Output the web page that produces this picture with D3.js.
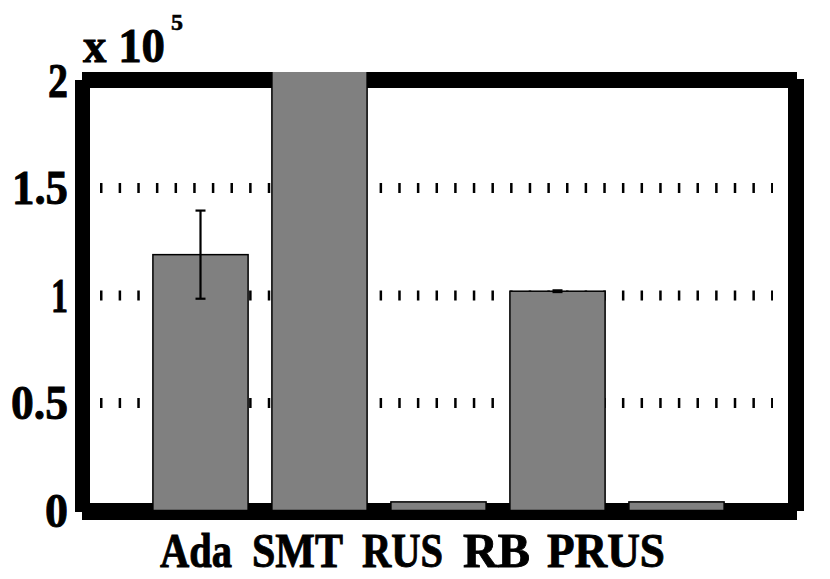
<!DOCTYPE html>
<html>
<head>
<meta charset="utf-8">
<script src="https://cdn.jsdelivr.net/npm/d3@7"></script>
<style>
  html, body { margin: 0; padding: 0; background: #fff; }
  svg { display: block; }
  text { font-family: "Liberation Serif", "Times New Roman", serif; font-weight: bold; fill: #000; stroke: #000; stroke-width: 0.9; }
</style>
</head>
<body>
<svg id="chart" width="830" height="579"></svg>
<script>
// ---- data ----
const categories = ["Ada", "SMT", "RUS", "RB", "PRUS"];
const values = [1.19, 2.05, 0.04, 1.02, 0.04];      // x 10^5
const errors = [0.205, 0, 0, 0.004, 0];
const yTicks = [0, 0.5, 1, 1.5, 2];
const yTickLabels = ["0", "0.5", "1", "1.5", "2"];
const gridValues = [0.5, 1, 1.5];
// label layout as placed in the original figure (px)
const labelLeft = [160, 252, 362, 463, 547];
const labelWidth = [72, 91, 81, 67, 118];
const tickLabelWidth = [23, 57, 17, 56, 20];

const svg = d3.select("#chart");
const x = d3.scaleLinear().domain([0, 6]).range([81.5, 795.5]);
const y = d3.scaleLinear().domain([0, 2]).range([510.5, 80.5]);
const barW = x(0.8) - x(0);

// grid (dotted, rendered as short vertical ticks)
svg.append("g").selectAll("line").data(gridValues).join("line")
  .attr("x1", 100).attr("x2", 773)
  .attr("y1", d => y(d)).attr("y2", d => y(d))
  .attr("stroke", "#000").attr("stroke-width", 10)
  .attr("stroke-dasharray", "2.5 16.14");

// frame
const frame = svg.append("g").attr("fill", "#000");
frame.append("rect").attr("x", 75).attr("y", 80).attr("width", 15).attr("height", 432); // left
frame.append("rect").attr("x", 82).attr("y", 503).attr("width", 715).attr("height", 17); // bottom
frame.append("rect").attr("x", 82).attr("y", 72).attr("width", 715).attr("height", 16); // top
frame.append("rect").attr("x", 788).attr("y", 79).attr("width", 16).attr("height", 432); // right

// bars (clipped)
svg.append("clipPath").attr("id", "clip").append("rect")
  .attr("x", 75).attr("y", 72).attr("width", 730).attr("height", 448);
svg.append("g").attr("clip-path", "url(#clip)")
  .selectAll("rect").data(values).join("rect")
  .attr("x", (d, i) => x(i + 1) - barW / 2)
  .attr("y", d => y(d))
  .attr("width", barW)
  .attr("height", d => y(0) - y(d))
  .attr("fill", "#808080")
  .attr("stroke", "#000").attr("stroke-width", 1.5);

// error bars
const eb = svg.append("g").attr("stroke", "#000").attr("stroke-width", 2.2);
values.forEach((v, i) => {
  if (!errors[i]) return;
  const cx = x(i + 1);
  eb.append("line").attr("x1", cx).attr("x2", cx).attr("y1", y(v + errors[i])).attr("y2", y(v - errors[i]));
  [v + errors[i], v - errors[i]].forEach(t => {
    eb.append("line").attr("x1", cx - 5).attr("x2", cx + 5).attr("y1", y(t)).attr("y2", y(t));
  });
});

// y tick labels
svg.append("g").selectAll("text").data(yTicks).join("text")
  .attr("x", (d, i) => 68 - tickLabelWidth[i]).attr("y", d => y(d) + 16)
  .attr("font-size", 48)
  .attr("textLength", (d, i) => tickLabelWidth[i])
  .attr("lengthAdjust", "spacingAndGlyphs")
  .text((d, i) => yTickLabels[i]);

// exponent label
svg.append("text").attr("x", 83).attr("y", 62).attr("font-size", 48)
  .attr("textLength", 82).attr("lengthAdjust", "spacingAndGlyphs")
  .text("x 10");
svg.append("text").attr("x", 171).attr("y", 30).attr("font-size", 24)
  .attr("textLength", 12).attr("lengthAdjust", "spacingAndGlyphs")
  .style("stroke-width", 0.6)
  .text("5");

// category labels
svg.append("g").selectAll("text").data(categories).join("text")
  .attr("x", (d, i) => labelLeft[i]).attr("y", 567)
  .attr("font-size", 48)
  .attr("textLength", (d, i) => labelWidth[i])
  .attr("lengthAdjust", "spacingAndGlyphs")
  .text(d => d);
</script>
</body>
</html>
